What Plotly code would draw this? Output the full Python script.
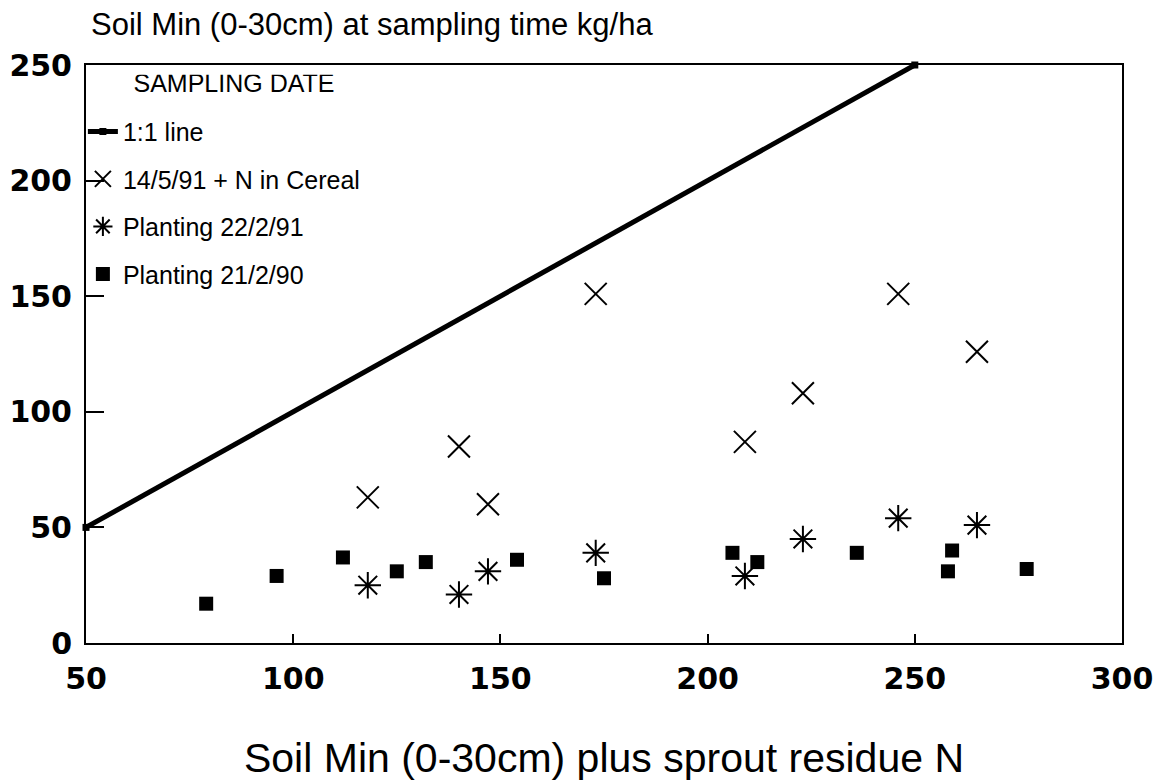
import plotly.graph_objects as go

# ---- data ----
x_title = "Soil Min (0-30cm) plus sprout residue N"
y_title = "Soil Min (0-30cm) at sampling time kg/ha"
legend_title = "SAMPLING DATE"

line_name = "1:1 line"
line_x = [50, 250]
line_y = [50, 250]

cereal_name = "14/5/91 + N in Cereal"
cereal_x = [118, 140, 147, 173, 209, 223, 246, 265]
cereal_y = [63, 85, 60, 151, 87, 108, 151, 126]

p91_name = "Planting 22/2/91"
p91_x = [118, 140, 147, 173, 209, 223, 246, 265]
p91_y = [25, 21, 31, 39, 29, 45, 54, 51]

p90_name = "Planting 21/2/90"
p90_x = [79, 96, 112, 125, 132, 154, 175, 206, 212, 236, 258, 259, 277]
p90_y = [17, 29, 37, 31, 35, 36, 28, 39, 35, 39, 31, 40, 32]

x_ticks = [50, 100, 150, 200, 250, 300]
y_ticks = [0, 50, 100, 150, 200, 250]

# ---- figure ----
fig = go.Figure()

fig.add_trace(go.Scatter(
    x=line_x, y=line_y, name=line_name, mode="lines+markers",
    line=dict(color="black", width=5),
    marker=dict(symbol="square", size=7, color="black"),
    legendgroup="a", cliponaxis=False,
))
fig.add_trace(go.Scatter(
    x=cereal_x, y=cereal_y, name=cereal_name, mode="markers",
    marker=dict(symbol="x-thin-open", size=22, color="black",
                line=dict(color="black", width=2)),
    legendgroup="b", cliponaxis=False,
))
fig.add_trace(go.Scatter(
    x=p91_x, y=p91_y, name=p91_name, mode="markers",
    marker=dict(symbol="asterisk-open", size=22, color="black",
                line=dict(color="black", width=2)),
    legendgroup="c", cliponaxis=False,
))
fig.add_trace(go.Scatter(
    x=p90_x, y=p90_y, name=p90_name, mode="markers",
    marker=dict(symbol="square", size=14, color="black"),
    legendgroup="d", cliponaxis=False,
))

tick_font = dict(family="DejaVu Sans", size=30, color="black", weight="bold")
text_font = "Liberation Sans, Arial, sans-serif"

fig.update_layout(
    width=1165, height=781,
    margin=dict(l=86, r=43, t=65, b=138, autoexpand=False),
    paper_bgcolor="white", plot_bgcolor="white",
    title=dict(
        text=y_title, x=91 / 1165, xref="container", xanchor="left",
        y=1 - 24 / 781, yref="container", yanchor="middle",
        font=dict(family=text_font, size=31, color="black"),
    ),
    xaxis=dict(
        range=[50, 300], tickvals=x_ticks, ticks="inside", ticklen=9,
        tickwidth=1.5, tickcolor="black", showline=True, linecolor="black",
        linewidth=2, mirror=True, showgrid=False, zeroline=False,
        tickfont=tick_font, ticklabelstandoff=8,
        title=dict(text=x_title, standoff=55,
                   font=dict(family=text_font, size=41, color="black")),
    ),
    yaxis=dict(
        range=[0, 250], tickvals=y_ticks, ticks="inside", ticklen=18,
        tickwidth=1.5, tickcolor="black", showline=True, linecolor="black",
        linewidth=2, mirror=True, showgrid=False, zeroline=False,
        tickfont=tick_font, ticklabelstandoff=6,
    ),
    showlegend=True,
    legend=dict(
        x=-0.003, y=0.983, xanchor="left", yanchor="top",
        bgcolor="rgba(0,0,0,0)", borderwidth=0,
        font=dict(family=text_font, size=25, color="black"),
        title=dict(text="<span style='font-size:25px'>" + "\u00a0" * 7
                   + legend_title + "</span><br>\u00a0",
                   font=dict(family=text_font, size=13, color="black")),
        tracegroupgap=12,
        itemwidth=30,
    ),
)

fig.write_html("out.html")
